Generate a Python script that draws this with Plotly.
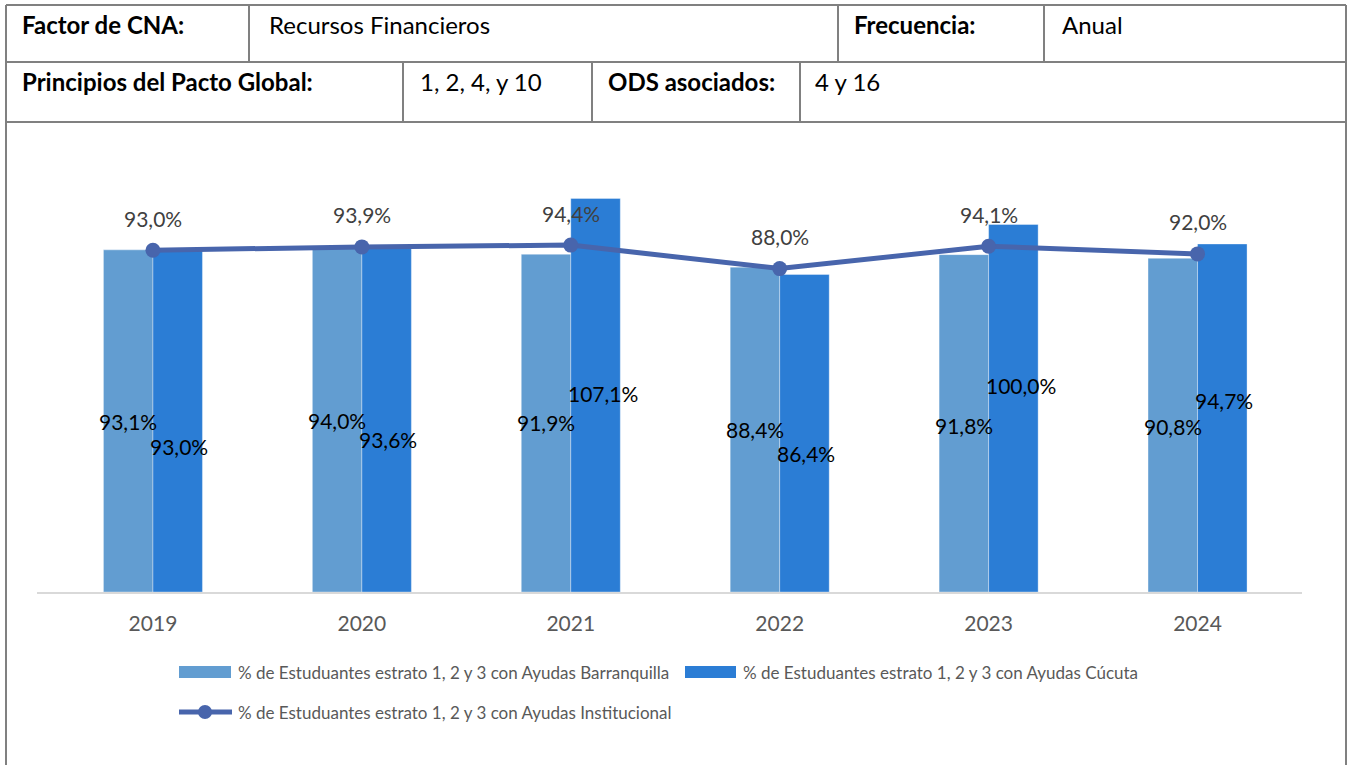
import plotly.graph_objects as go

# ---------------- data ----------------
years = ["2019", "2020", "2021", "2022", "2023", "2024"]
barranquilla = [93.1, 94.0, 91.9, 88.4, 91.8, 90.8]
cucuta = [93.0, 93.6, 107.1, 86.4, 100.0, 94.7]
institucional = [93.0, 93.9, 94.4, 88.0, 94.1, 92.0]

name_barr = "% de Estuduantes estrato 1, 2 y 3 con Ayudas Barranquilla"
name_cuc = "% de Estuduantes estrato 1, 2 y 3 con Ayudas Cúcuta"
name_inst = "% de Estuduantes estrato 1, 2 y 3 con Ayudas Institucional"

header_row1 = [("Factor de CNA:", True), ("Recursos Financieros", False),
               ("Frecuencia:", True), ("Anual", False)]
header_row2 = [("Principios del Pacto Global:", True), ("1, 2, 4, y 10", False),
               ("ODS asociados:", True), ("4 y 16", False)]

# manual label heights (axis units) as placed in the original chart
lbl_y_barr = [46.3, 46.8, 46.0, 44.1, 45.4, 45.0]
lbl_y_cuc = [39.5, 41.4, 54.1, 37.8, 56.1, 52.2]

# ---------------- styling ----------------
W, H = 1351, 765
FONT = "Lato"
C_BARR = "#629DD1"
C_CUC = "#2B7DD5"
C_LINE = "#4865AC"
C_BORDER = "#808080"


def px(x):
    return x / W


def py(y):
    return 1 - y / H


def fmt(v):
    return f"{v:.1f}".replace(".", ",") + "%"


fig = go.Figure()
fig.add_trace(go.Bar(x=years, y=barranquilla, name=name_barr, marker_color=C_BARR,
                     marker_line=dict(color="rgba(255,255,255,0.35)", width=1),
                     showlegend=False))
fig.add_trace(go.Bar(x=years, y=cucuta, name=name_cuc, marker_color=C_CUC,
                     marker_line=dict(color="rgba(255,255,255,0.35)", width=1),
                     showlegend=False))
fig.add_trace(go.Scatter(x=years, y=institucional, name=name_inst, mode="lines+markers",
                         line=dict(color=C_LINE, width=5), marker=dict(size=15, color=C_LINE),
                         showlegend=False))

ann = []
# line labels (category serial numbers used for x)
for i, v in enumerate(institucional):
    ann.append(dict(x=i, y=v, xref="x", yref="y", text=fmt(v), showarrow=False,
                    yshift=32, font=dict(family=FONT, size=21, color="#404040")))
# bar labels
for i, (v, ly) in enumerate(zip(barranquilla, lbl_y_barr)):
    ann.append(dict(x=i, y=ly, xref="x", yref="y", text=fmt(v), showarrow=False,
                    xshift=-25, font=dict(family=FONT, size=21, color="#000000")))
for i, (v, ly) in enumerate(zip(cucuta, lbl_y_cuc)):
    ann.append(dict(x=i, y=ly, xref="x", yref="y", text=fmt(v), showarrow=False,
                    xshift=-5, xanchor="left", font=dict(family=FONT, size=21, color="#000000")))

# header table text
row1_x = [20, 267, 852, 1060]
row2_x = [20, 418, 606, 813]
for (t, b), x in zip(header_row1, row1_x):
    ann.append(dict(x=px(x), y=py(24), xref="paper", yref="paper", text=f"<b>{t}</b>" if b else t,
                    showarrow=False, xanchor="left", yanchor="middle",
                    font=dict(family=FONT, size=24, color="#000000")))
for (t, b), x in zip(header_row2, row2_x):
    ann.append(dict(x=px(x), y=py(82), xref="paper", yref="paper", text=f"<b>{t}</b>" if b else t,
                    showarrow=False, xanchor="left", yanchor="middle",
                    font=dict(family=FONT, size=24, color="#000000")))

# custom legend text
legend_items = [(name_barr, 236, 672), (name_cuc, 741, 672), (name_inst, 236, 712)]
for t, x, y in legend_items:
    ann.append(dict(x=px(x), y=py(y), xref="paper", yref="paper", text=t, showarrow=False,
                    xanchor="left", yanchor="middle",
                    font=dict(family=FONT, size=17, color="#595959")))

shapes = []


def hline(y, x0, x1):
    shapes.append(dict(type="line", xref="paper", yref="paper", x0=px(x0), x1=px(x1),
                       y0=py(y), y1=py(y), line=dict(color=C_BORDER, width=2)))


def vline(x, y0, y1):
    shapes.append(dict(type="line", xref="paper", yref="paper", x0=px(x), x1=px(x),
                       y0=py(y0), y1=py(y1), line=dict(color=C_BORDER, width=2)))


hline(5, 6, 1346)
hline(62, 6, 1346)
hline(122, 6, 1346)
vline(6, 5, 765)
vline(1346, 5, 765)
for x in (249, 838, 1044):
    vline(x, 5, 62)
for x in (403, 592, 800):
    vline(x, 62, 122)

# legend swatches
shapes.append(dict(type="rect", xref="paper", yref="paper", x0=px(179), x1=px(231),
                   y0=py(678), y1=py(666), fillcolor=C_BARR, line=dict(width=0)))
shapes.append(dict(type="rect", xref="paper", yref="paper", x0=px(685), x1=px(736),
                   y0=py(678), y1=py(666), fillcolor=C_CUC, line=dict(width=0)))
shapes.append(dict(type="line", xref="paper", yref="paper", x0=px(179), x1=px(232),
                   y0=py(712), y1=py(712), line=dict(color=C_LINE, width=5)))
shapes.append(dict(type="circle", xref="paper", yref="paper", x0=px(198), x1=px(212),
                   y0=py(719), y1=py(705), fillcolor=C_LINE, line=dict(width=0)))

fig.update_layout(
    width=W, height=H,
    margin=dict(l=0, r=0, t=0, b=0),
    paper_bgcolor="white", plot_bgcolor="white",
    barmode="group", bargap=0.526, bargroupgap=0,
    font=dict(family=FONT),
    showlegend=False,
    annotations=ann, shapes=shapes,
    xaxis=dict(domain=[px(37), px(1302)], range=[-0.555, 5.5], type="category",
               showline=True, linecolor="#d9d9d9", linewidth=1.5, ticks="",
               showgrid=False, zeroline=False, ticklabelstandoff=12,
               tickfont=dict(family=FONT, size=21, color="#595959"), fixedrange=True),
    yaxis=dict(domain=[py(592), py(151)], range=[0, 120], visible=False,
               showgrid=False, zeroline=False, fixedrange=True),
)

fig.write_html("out.html", config={"displayModeBar": False},
               post_script="document.body.style.margin='0';document.body.style.overflow='hidden';")
